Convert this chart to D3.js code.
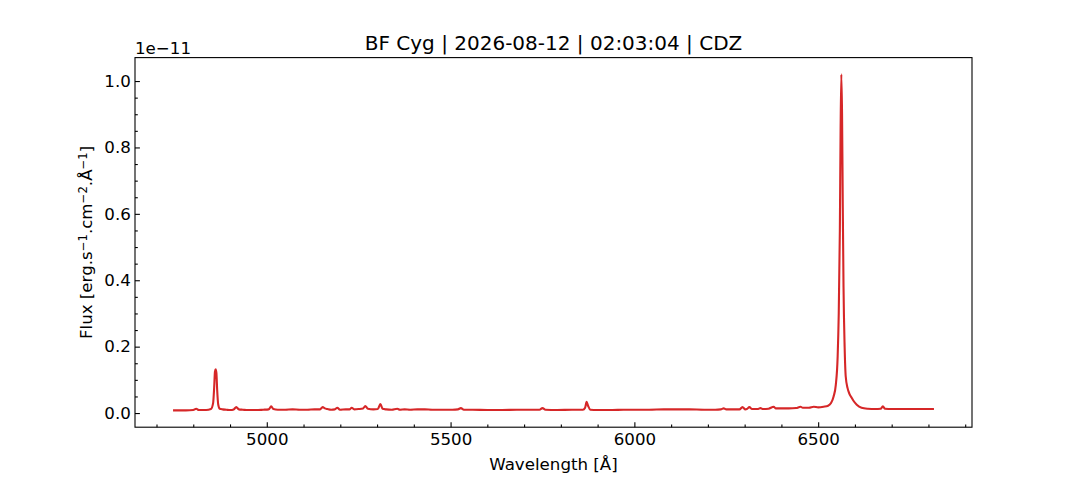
<!DOCTYPE html>
<html>
<head>
<meta charset="utf-8">
<script src="https://cdn.jsdelivr.net/npm/d3@7"></script>
<style>
  body { margin: 0; background: #fff; }
  svg { font-family: "DejaVu Sans", sans-serif; }
</style>
</head>
<body>
<div id="chart"></div>
<script>
// spectrum (flux in units of 1e-11)
const wavelength = [
  4745, 4760, 4780, 4800, 4808, 4815, 4835, 4848, 4854, 4857, 4859, 4861, 4863, 4865, 4868, 4872,
  4880, 4890, 4900, 4910, 4917, 4924, 4935, 4950, 4970, 4990, 5005, 5012, 5018, 5030, 5050, 5070,
  5090, 5110, 5130, 5145, 5152, 5158, 5165, 5175, 5185, 5192, 5199, 5215, 5225, 5231, 5238, 5250,
  5262, 5268, 5275, 5290, 5302, 5309, 5315, 5325, 5340, 5355, 5362, 5375, 5390, 5410, 5430, 5450,
  5480, 5505, 5520, 5528, 5536, 5560, 5600, 5640, 5680, 5720, 5742, 5750, 5758, 5790, 5830, 5860,
  5866, 5870, 5874, 5880, 5900, 5940, 5970, 6000, 6040, 6080, 6120, 6150, 6190, 6220, 6235, 6243,
  6250, 6270, 6286, 6294, 6302, 6306, 6313, 6320, 6335, 6343, 6350, 6365, 6379, 6385, 6400, 6420,
  6440, 6452, 6458, 6475, 6488, 6500, 6515, 6527, 6535, 6542, 6548, 6553, 6556, 6559, 6561, 6563,
  6565, 6567, 6569, 6572, 6575, 6580, 6585, 6590, 6596, 6605, 6618, 6635, 6655, 6670, 6676, 6682,
  6700, 6730, 6760, 6790, 6815
];
const flux = [
  0.008, 0.008, 0.008, 0.009, 0.013, 0.009, 0.009, 0.012, 0.030, 0.080, 0.125, 0.132, 0.120, 0.070, 0.025, 0.013,
  0.011, 0.010, 0.009, 0.011, 0.018, 0.011, 0.010, 0.009, 0.009, 0.010, 0.011, 0.020, 0.012, 0.010, 0.010, 0.011,
  0.010, 0.010, 0.011, 0.011, 0.018, 0.014, 0.012, 0.010, 0.011, 0.016, 0.010, 0.011, 0.011, 0.016, 0.011, 0.012,
  0.014, 0.021, 0.013, 0.011, 0.012, 0.027, 0.013, 0.011, 0.010, 0.013, 0.010, 0.011, 0.010, 0.011, 0.011, 0.010,
  0.010, 0.010, 0.011, 0.015, 0.010, 0.010, 0.009, 0.009, 0.010, 0.010, 0.010, 0.015, 0.010, 0.009, 0.010, 0.010,
  0.016, 0.034, 0.022, 0.010, 0.009, 0.009, 0.010, 0.010, 0.010, 0.011, 0.011, 0.011, 0.010, 0.010, 0.011, 0.014,
  0.011, 0.011, 0.011, 0.018, 0.011, 0.012, 0.018, 0.012, 0.012, 0.015, 0.012, 0.013, 0.019, 0.014, 0.014, 0.014,
  0.015, 0.019, 0.016, 0.016, 0.019, 0.017, 0.019, 0.022, 0.030, 0.050, 0.085, 0.170, 0.300, 0.550, 0.850, 1.020,
  0.900, 0.620, 0.380, 0.200, 0.110, 0.075, 0.058, 0.048, 0.037, 0.025, 0.016, 0.013, 0.012, 0.013, 0.020, 0.013,
  0.012, 0.012, 0.012, 0.012, 0.012
];
const xTicks = [5000, 5500, 6000, 6500];
const yTicks = [0.0, 0.2, 0.4, 0.6, 0.8, 1.0];

const titleText = "BF Cyg | 2026-08-12 | 02:03:04 | CDZ";

const W = 1080, H = 480;
const m = {left: 135, right: 972, top: 57.6, bottom: 427.2};
const fs = "16.67px";

const data = wavelength.map((w, i) => ({w: w, f: flux[i]}));

// matplotlib style 5% margins
const xExt = d3.extent(wavelength), yExt = d3.extent(flux);
const xPad = (xExt[1] - xExt[0]) * 0.05, yPad = (yExt[1] - yExt[0]) * 0.05;

const x = d3.scaleLinear().domain([xExt[0] - xPad, xExt[1] + xPad]).range([m.left, m.right]);
const y = d3.scaleLinear().domain([yExt[0] - yPad, yExt[1] + yPad]).range([m.bottom, m.top]);

const svg = d3.select("#chart").append("svg")
  .attr("width", W)
  .attr("height", H);

svg.append("defs").append("clipPath").attr("id", "clip")
  .append("rect")
  .attr("x", m.left).attr("y", m.top)
  .attr("width", m.right - m.left).attr("height", m.bottom - m.top);

const line = d3.line()
  .x(d => x(d.w))
  .y(d => y(d.f))
  .curve(d3.curveMonotoneX);

svg.append("path")
  .datum(data)
  .attr("clip-path", "url(#clip)")
  .attr("fill", "none")
  .attr("stroke", "#d62728")
  .attr("stroke-width", 2.1)
  .attr("stroke-linejoin", "round")
  .attr("d", line);

// minor ticks
const xMinor = d3.range(4700, 6901, 100).filter(v => !xTicks.includes(v));
const yMinor = d3.range(0, 21).map(i => i * 0.05).filter((v, i) => i % 4 !== 0);

const xAxis = d3.axisBottom(x).tickValues(xTicks).tickFormat(d3.format("d"))
  .tickSizeInner(-4.9).tickSizeOuter(0).tickPadding(6);
const xAxisMinor = d3.axisBottom(x).tickValues(xMinor).tickFormat("")
  .tickSizeInner(-2.8).tickSizeOuter(0);
const yAxis = d3.axisLeft(y).tickValues(yTicks).tickFormat(d3.format(".1f"))
  .tickSizeInner(-4.9).tickSizeOuter(0).tickPadding(4.2);
const yAxisMinor = d3.axisLeft(y).tickValues(yMinor).tickFormat("")
  .tickSizeInner(-2.8).tickSizeOuter(0);

function styleAxis(g) {
  g.select(".domain").remove();
  g.selectAll(".tick line").attr("stroke", "#000").attr("stroke-width", 1.1);
  g.selectAll(".tick text").attr("fill", "#000").style("font-size", fs)
    .style("font-family", "DejaVu Sans");
}

svg.append("g").attr("transform", `translate(0,${m.bottom})`).call(xAxis).call(styleAxis);
svg.append("g").attr("transform", `translate(0,${m.bottom})`).call(xAxisMinor).call(styleAxis);
svg.append("g").attr("transform", `translate(${m.left},0)`).call(yAxis).call(styleAxis);
svg.append("g").attr("transform", `translate(${m.left},0)`).call(yAxisMinor).call(styleAxis);

// frame
svg.append("rect")
  .attr("x", m.left).attr("y", m.top)
  .attr("width", m.right - m.left).attr("height", m.bottom - m.top)
  .attr("fill", "none").attr("stroke", "#000").attr("stroke-width", 1.1);

// offset text
svg.append("text")
  .attr("x", m.left).attr("y", 53.5)
  .style("font-size", fs)
  .text("1e\u221211");

// title
svg.append("text")
  .attr("x", (m.left + m.right) / 2).attr("y", 49.5)
  .attr("text-anchor", "middle")
  .style("font-size", "20px")
  .text(titleText);

// x label
svg.append("text")
  .attr("x", (m.left + m.right) / 2).attr("y", 470)
  .attr("text-anchor", "middle")
  .style("font-size", fs)
  .text("Wavelength [\u00c5]");

// y label with superscripts
const yl = svg.append("text")
  .attr("transform", `translate(92,${(m.top + m.bottom) / 2}) rotate(-90)`)
  .attr("text-anchor", "middle")
  .style("font-size", fs);
const parts = [["Flux [erg.s", false], ["\u22121", true], [".cm", false], ["\u22122", true],
               [".\u00c5", false], ["\u22121", true], ["]", false]];
parts.forEach(p => {
  yl.append("tspan")
    .attr("baseline-shift", p[1] ? "38%" : null)
    .style("font-size", p[1] ? "11.7px" : null)
    .text(p[0]);
});
</script>
</body>
</html>
